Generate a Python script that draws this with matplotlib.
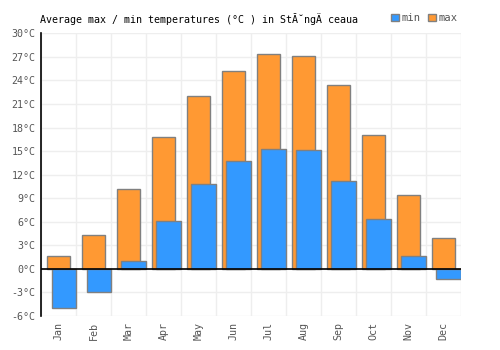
import matplotlib.pyplot as plt
import numpy as np

months = ["Jan", "Feb", "Mar", "Apr", "May", "Jun",
          "Jul", "Aug", "Sep", "Oct", "Nov", "Dec"]
t_max = [1.7, 4.3, 10.2, 16.8, 22.0, 25.2, 27.3, 27.1, 23.4, 17.0, 9.4, 3.9]
t_min = [-5.0, -2.9, 1.0, 6.1, 10.8, 13.8, 15.3, 15.1, 11.2, 6.3, 1.7, -1.3]
yticks = list(range(-6, 31, 3))

plt.rcParams['font.family'] = ['DejaVu Sans Mono']

fig = plt.figure(figsize=(5, 3.5), dpi=100)
ax = fig.add_axes([0.082, 0.097, 0.84, 0.808])

x = np.arange(len(months))
ax.bar(x - 0.34, t_max, width=0.67, align='edge', color='#ff9933',
       edgecolor='#808080', linewidth=1, zorder=2, label='max')
ax.bar(x - 0.20, t_min, width=0.69, align='edge', color='#3399ff',
       edgecolor='#808080', linewidth=1, zorder=3, label='min')

ax.axhline(0, color='black', lw=1.2, zorder=4)

ax.set_xlim(-0.5, 11.5)
ax.set_ylim(-6, 30)
ax.set_yticks(yticks)
ax.set_yticklabels([f"{v}°C" for v in yticks])
ax.set_xticks(x)
ax.set_xticklabels(months, rotation=90)

ax.grid(False)
for v in yticks:
    ax.axhline(v, color='#eeeeee', lw=1, zorder=0)
for b in np.arange(-0.5, 12, 1):
    ax.axvline(b, color='#eeeeee', lw=1, zorder=0)

for s in ['top', 'right', 'bottom']:
    ax.spines[s].set_visible(False)
ax.spines['left'].set_color('black')
ax.spines['left'].set_linewidth(1.2)
ax.tick_params(axis='both', which='both', length=0, labelsize=7.2,
               labelcolor='#555555', pad=4)

fig.text(0.08, 0.945, "Average max / min temperatures (°C ) in StĂ˘ngÄ ceaua",
         fontsize=7.2, color='black', va='center', ha='left')

h, l = ax.get_legend_handles_labels()
fig.legend(h[::-1], l[::-1], loc='center left', bbox_to_anchor=(0.772, 0.948),
           ncol=2, frameon=False, fontsize=7.6, handlelength=0.75,
           handleheight=0.75, handletextpad=0.25, columnspacing=0.7,
           labelcolor='#555555', borderpad=0)

fig.savefig("out.png", dpi=100)
